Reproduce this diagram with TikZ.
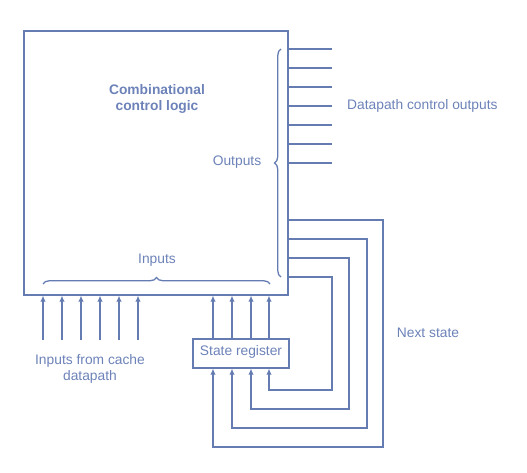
\documentclass[tikz,border=0pt]{standalone}
\usepackage{fontspec}
\setmainfont{Liberation Sans}
\usetikzlibrary{arrows.meta,decorations.pathreplacing,calc}
\definecolor{ln}{RGB}{100,124,178}
\definecolor{tx}{RGB}{108,130,184}
\begin{document}
\begin{tikzpicture}[x=1pt,y=-1pt,
  wire/.style={draw=ln,line width=1.3pt},
  arr/.style={wire,-{Latex[length=6pt,width=5.5pt]}},
  lbl/.style={text=tx,font=\fontsize{13.8}{16.5}\selectfont,inner sep=0pt,align=center},
  brc/.style={wire,decorate,decoration={brace,amplitude=6.5pt,aspect=0.5}}]
\useasboundingbox (0,0) rectangle (527,473);
% main box
\node[draw=ln,line width=1.3pt,minimum width=264pt,minimum height=264pt,inner sep=0pt] (logic) at (156,163) {};
\node[lbl,font=\fontsize{13.8}{16.5}\selectfont\bfseries] (title) at (157,99) {Combinational\\control logic};
% outputs
\foreach \y [count=\i] in {49,68,87,106,125,144,163}{
  \coordinate (o\i) at (332,\y);
  \draw[wire] (o\i -| logic.east) -- (o\i);
}
\node[lbl,anchor=west] (dco) at (347,106) {Datapath control outputs};
\coordinate (ob1) at (281,277);
\coordinate (ob2) at (281,49);
\draw[brc] (ob1) -- (ob2);
\node[lbl] (outs) at (237,162) {Outputs};
% inputs brace
\coordinate (ib1) at (43,284);
\coordinate (ib2) at (270,284);
\draw[brc] (ib1) -- (ib2);
\node[lbl] (ins) at (157,260) {Inputs};
% inputs from cache
\foreach \x [count=\i] in {43,62,81,100,119,138}{
  \coordinate (ia\i) at (\x,340);
  \draw[arr] (ia\i) -- (ia\i |- logic.south);
}
\node[lbl] (ifc) at (90,369) {Inputs from cache\\datapath};
% state register
\node[draw=ln,line width=1.3pt,minimum width=96pt,minimum height=29pt,inner sep=0pt] (reg) at (241,353.5) {};
\node[lbl] (regt) at (241,352) {State register};
\foreach \x [count=\i] in {213,232,251,269}{
  \coordinate (s\i) at (\x,0);
  \draw[arr] (s\i |- reg.north) -- (s\i |- logic.south);
}
% next state loops
\coordinate (n1) at (332,390);
\coordinate (n2) at (349,409);
\coordinate (n3) at (367,428);
\coordinate (n4) at (383,447);
\draw[arr] (logic.east |- 0,277) -| (n1) -| (s4 |- reg.south);
\draw[arr] (logic.east |- 0,258) -| (n2) -| (s3 |- reg.south);
\draw[arr] (logic.east |- 0,239) -| (n3) -| (s2 |- reg.south);
\draw[arr] (logic.east |- 0,220) -| (n4) -| (s1 |- reg.south);
\node[lbl] (ns) at (428,333) {Next state};
\end{tikzpicture}
\end{document}
